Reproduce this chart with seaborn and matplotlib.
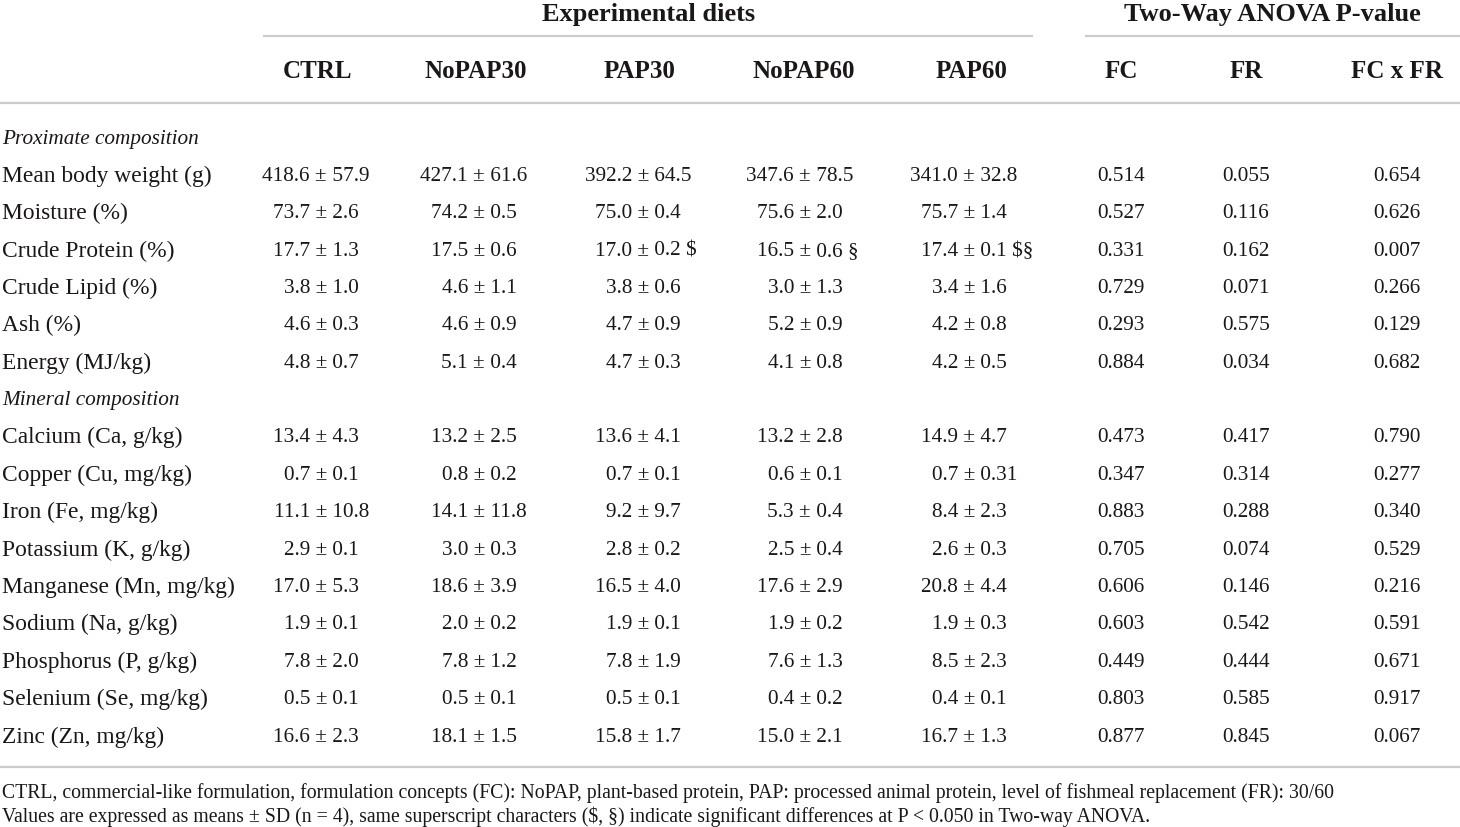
import matplotlib
matplotlib.use("Agg")
import matplotlib.pyplot as plt
import seaborn as sns
sns.set_theme(style="white")
plt.rcParams["font.family"] = ["Liberation Serif", "DejaVu Serif"]

# table content
diets = ["CTRL", "NoPAP30", "PAP30", "NoPAP60", "PAP60"]
pval_cols = ["FC", "FR", "FC x FR"]

prox_rows = ["Mean body weight (g)", "Moisture (%)", "Crude Protein (%)", "Crude Lipid (%)",
             "Ash (%)", "Energy (MJ/kg)"]
mineral_rows = ["Calcium (Ca, g/kg)", "Copper (Cu, mg/kg)", "Iron (Fe, mg/kg)",
                "Potassium (K, g/kg)", "Manganese (Mn, mg/kg)", "Sodium (Na, g/kg)",
                "Phosphorus (P, g/kg)", "Selenium (Se, mg/kg)", "Zinc (Zn, mg/kg)"]

# means / sd per diet (proximate rows then mineral rows)
ctrl_mean = ["418.6", "73.7", "17.7", "3.8", "4.6", "4.8",
             "13.4", "0.7", "11.1", "2.9", "17.0", "1.9", "7.8", "0.5", "16.6"]
ctrl_sd = ["57.9", "2.6", "1.3", "1.0", "0.3", "0.7",
           "4.3", "0.1", "10.8", "0.1", "5.3", "0.1", "2.0", "0.1", "2.3"]
nopap30_mean = ["427.1", "74.2", "17.5", "4.6", "4.6", "5.1",
                "13.2", "0.8", "14.1", "3.0", "18.6", "2.0", "7.8", "0.5", "18.1"]
nopap30_sd = ["61.6", "0.5", "0.6", "1.1", "0.9", "0.4",
              "2.5", "0.2", "11.8", "0.3", "3.9", "0.2", "1.2", "0.1", "1.5"]
pap30_mean = ["392.2", "75.0", "17.0", "3.8", "4.7", "4.7",
              "13.6", "0.7", "9.2", "2.8", "16.5", "1.9", "7.8", "0.5", "15.8"]
pap30_sd = ["64.5", "0.4", "0.2 $", "0.6", "0.9", "0.3",
            "4.1", "0.1", "9.7", "0.2", "4.0", "0.1", "1.9", "0.1", "1.7"]
nopap60_mean = ["347.6", "75.6", "16.5", "3.0", "5.2", "4.1",
                "13.2", "0.6", "5.3", "2.5", "17.6", "1.9", "7.6", "0.4", "15.0"]
nopap60_sd = ["78.5", "2.0", "0.6 §", "1.3", "0.9", "0.8",
              "2.8", "0.1", "0.4", "0.4", "2.9", "0.2", "1.3", "0.2", "2.1"]
pap60_mean = ["341.0", "75.7", "17.4", "3.4", "4.2", "4.2",
              "14.9", "0.7", "8.4", "2.6", "20.8", "1.9", "8.5", "0.4", "16.7"]
pap60_sd = ["32.8", "1.4", "0.1 $§", "1.6", "0.8", "0.5",
            "4.7", "0.31", "2.3", "0.3", "4.4", "0.3", "2.3", "0.1", "1.3"]

p_fc = ["0.514", "0.527", "0.331", "0.729", "0.293", "0.884",
        "0.473", "0.347", "0.883", "0.705", "0.606", "0.603", "0.449", "0.803", "0.877"]
p_fr = ["0.055", "0.116", "0.162", "0.071", "0.575", "0.034",
        "0.417", "0.314", "0.288", "0.074", "0.146", "0.542", "0.444", "0.585", "0.845"]
p_fcxfr = ["0.654", "0.626", "0.007", "0.266", "0.129", "0.682",
           "0.790", "0.277", "0.340", "0.529", "0.216", "0.591", "0.671", "0.917", "0.067"]

footnotes = [
    "CTRL, commercial-like formulation, formulation concepts (FC): NoPAP, plant-based protein, "
    "PAP: processed animal protein, level of fishmeal replacement (FR): 30/60",
    "Values are expressed as means ± SD (n = 4), same superscript characters ($, §) indicate "
    "significant differences at P < 0.050 in Two-way ANOVA.",
]

means = [ctrl_mean, nopap30_mean, pap30_mean, nopap60_mean, pap60_mean]
sds = [ctrl_sd, nopap30_sd, pap30_sd, nopap60_sd, pap60_sd]
pvals = [p_fc, p_fr, p_fcxfr]

# layout (pixel coords)
TXT = "#1a1716"
LINE = "#cbcbcb"
diet_hdr_x = [317, 476, 640, 804, 972]
diet_pm_x = [327, 485, 649, 811, 975]   # right edge of the "±"
pval_x = [1121, 1246, 1397]
num_fs = 15.3
lab_fs = 16.9
head_fs = 18
group_fs = 19
dy = 2.5

fig = plt.figure(figsize=(14.6, 8.28), dpi=100)
ax = fig.add_axes([0, 0, 1, 1])
ax.set_xlim(0, 1460)
ax.set_ylim(828, 0)
ax.axis("off")

def txt(x, y, s, **kw):
    kw.setdefault("fontsize", num_fs)
    kw.setdefault("va", "center")
    ax.text(x, y + dy, s, color=TXT, parse_math=False, **kw)

# group headers and rules
txt(649, 12, "Experimental diets", ha="center", fontsize=group_fs, fontweight="bold")
txt(1272, 12, "Two-Way ANOVA P-value", ha="center", fontsize=group_fs, fontweight="bold")
ax.hlines(37, 263, 1033, color=LINE, lw=1.6)
ax.hlines(37, 1085, 1460, color=LINE, lw=1.6)
for name, x in zip(diets, diet_hdr_x):
    txt(x, 69, name, ha="center", fontsize=head_fs, fontweight="bold")
for name, x in zip(pval_cols, pval_x):
    txt(x, 69, name, ha="center", fontsize=head_fs, fontweight="bold")
ax.hlines(104, 0, 1460, color=LINE, lw=1.6)

# body
row_y = [174, 211, 249, 286, 323, 361, 435, 473, 510, 548, 585, 622, 660, 697, 735]
txt(2, 137, "Proximate composition", ha="left", style="italic", fontsize=15.3)
txt(2, 398, "Mineral composition", ha="left", style="italic", fontsize=15.3)
labels = prox_rows + mineral_rows
for i, (lab, y) in enumerate(zip(labels, row_y)):
    txt(2, y, lab, ha="left", fontsize=lab_fs)
    for m, s, x in zip(means, sds, diet_pm_x):
        txt(x, y, m[i] + " ±", ha="right")
        txt(x, y, " " + s[i], ha="left")
    for p, x in zip(pvals, pval_x):
        txt(x, y, p[i], ha="center")

ax.hlines(768, 0, 1460, color=LINE, lw=1.6)
txt(2, 791, footnotes[0], ha="left", fontsize=14.2)
txt(2, 814, footnotes[1], ha="left", fontsize=14.2)

fig.savefig("out.png", dpi=100)
